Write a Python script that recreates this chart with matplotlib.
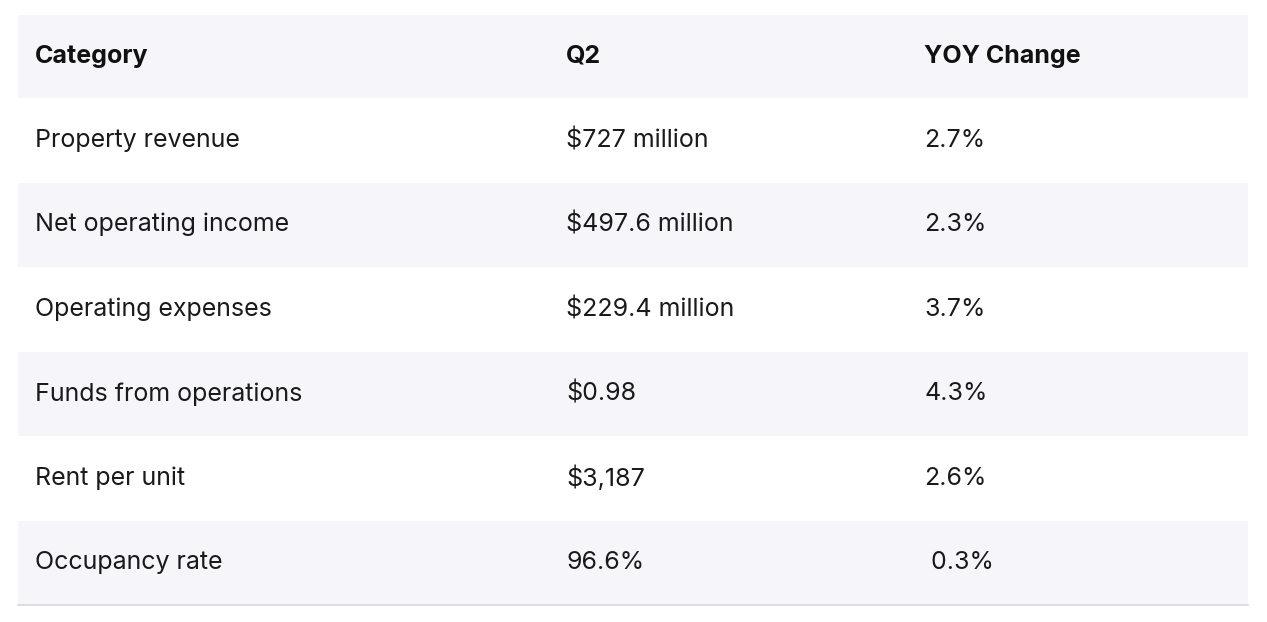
import matplotlib
matplotlib.use("Agg")
import matplotlib.pyplot as plt
from matplotlib.patches import Rectangle

headers = ["Category", "Q2", "YOY Change"]
categories = ["Property revenue", "Net operating income", "Operating expenses",
              "Funds from operations", "Rent per unit", "Occupancy rate"]
q2_values = ["$727 million", "$497.6 million", "$229.4 million", "$0.98", "$3,187", "96.6%"]
yoy_values = ["2.7%", "2.3%", "3.7%", "4.3%", "2.6%", " 0.3%"]

W, H = 1267, 622
fig = plt.figure(figsize=(W/100, H/100), dpi=100)
ax = fig.add_axes([0, 0, 1, 1])
ax.set_xlim(0, W); ax.set_ylim(H, 0); ax.axis("off")

left, right = 18, 1248
top, header_h, row_h = 15, 83, 84.5
col_x = [35, 566, 924]
bg = "#f6f6fa"
font = "Inter"

ax.add_patch(Rectangle((left, top), right-left, header_h, color=bg, lw=0))
for j, h in enumerate(headers):
    ax.text(col_x[j], top + header_h/2, h, fontsize=18, fontweight="bold",
            family=font, va="center", ha="left", color="#111111")

y = top + header_h
for i, (c, q, yv) in enumerate(zip(categories, q2_values, yoy_values)):
    if i % 2 == 1:
        ax.add_patch(Rectangle((left, y), right-left, row_h, color=bg, lw=0))
    for j, t in enumerate([c, q, yv]):
        ax.text(col_x[j], y + row_h/2, t, fontsize=18, family=font,
                va="center", ha="left", color="#1a1a1a")
    y += row_h
ax.plot([left, right], [y, y], color="#d8d8dc", lw=1.2)

fig.savefig("out.png", dpi=100)
